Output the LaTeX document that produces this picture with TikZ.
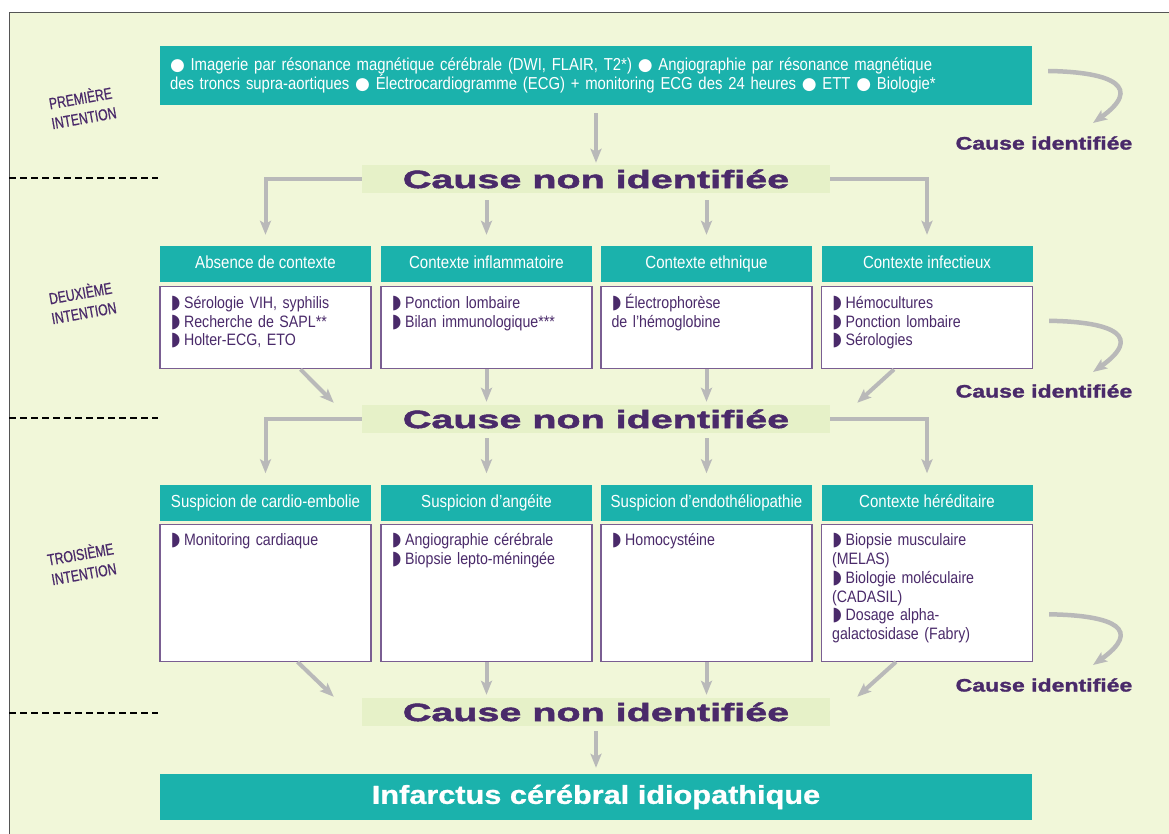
\documentclass[tikz,border=0pt]{standalone}
\usepackage{fontspec}
\setmainfont{Liberation Sans}
\newfontfamily\condfont[FakeStretch=0.86]{Liberation Sans}
\newfontfamily\capsfont[FakeStretch=0.76,FakeBold=0.6]{Liberation Sans}
\newfontfamily\bannerfont[FakeStretch=1.58,FakeBold=2]{Liberation Sans}
\newfontfamily\causefont[FakeStretch=1.28,FakeBold=1.6]{Liberation Sans}
\newfontfamily\finalfont[FakeStretch=1.18,FakeBold=1]{Liberation Sans}
\newfontfamily\symfont{DejaVu Sans}
\usetikzlibrary{arrows.meta,positioning}

\definecolor{tealbar}{HTML}{1BB2AC}
\definecolor{paper}{HTML}{F1F7D9}
\definecolor{bandgreen}{HTML}{E6F1C8}
\definecolor{plum}{HTML}{4A2A6A}
\definecolor{ashgray}{HTML}{B9B9B9}
\definecolor{boxline}{HTML}{7A5E92}
\definecolor{framegray}{HTML}{555555}

\newcommand\itm{\rule{0pt}{14pt}{\symfont\fontsize{19}{19}\selectfont ◗}\hspace{3.5pt}}
\newcommand\dotmark{{\symfont\fontsize{17}{17}\selectfont ●}}

\begin{document}
\begin{tikzpicture}[x=1pt,y=-1pt,
    bar/.style={fill=tealbar, inner sep=0pt},
    band/.style={fill=bandgreen, text=plum, minimum width=468, minimum height=28, inner sep=0pt,
        font=\bannerfont\bfseries\fontsize{25}{25}\selectfont},
    head/.style={bar, text=white, minimum width=211, minimum height=36, text height=12.5pt, text depth=3.5pt,
        font=\condfont\fontsize{17.5}{19}\selectfont},
    panel/.style={draw=boxline, fill=white, line width=1.2pt, minimum width=211, inner sep=0pt},
    items/.style={anchor=north west, text=plum, align=left, inner sep=0pt, text width=195,
        font=\condfont\fontsize{16.5}{18.7}\selectfont},
    level/.style={text=plum, rotate=10, align=center, font=\capsfont\fontsize{16}{20}\selectfont},
    found/.style={text=plum, inner sep=0pt, font=\causefont\bfseries\fontsize{18}{18}\selectfont},
    flow/.style={draw=ashgray, line width=4pt, -{Stealth[length=14pt,width=11pt,inset=3pt]}},
    sepline/.style={draw=black, line width=1.5pt, dash pattern=on 7pt off 4pt}]

    \useasboundingbox (0,0) rectangle (1169,834);
    \clip (0,0) rectangle (1169,834);
    \fill[white] (0,0) rectangle (1169,834);
    \draw[fill=paper, draw=framegray, line width=1pt] (9,13) rectangle (1190,850);

    % levels
    \node[level] (lv1) at (82,107) {PREMIÈRE\\INTENTION};
    \node[level] (lv2) at (82,302) {DEUXIÈME\\INTENTION};
    \node[level] (lv3) at (82,563) {TROISIÈME\\INTENTION};
    \draw[sepline] (9,178) -- (158,178);
    \draw[sepline] (9,418) -- (158,418);
    \draw[sepline] (9,713) -- (158,713);

    % first line exams
    \node[bar, minimum width=872, minimum height=59, text width=852, inner xsep=10pt,
        align=left, text=white, font=\condfont\fontsize{17.3}{18.5}\selectfont] (exam) at (596,75.5)
        {\dotmark{} Imagerie par résonance magnétique cérébrale (DWI, FLAIR, T2*) \dotmark{} Angiographie par résonance magnétique\\
         des troncs supra-aortiques \dotmark{} Électrocardiogramme (ECG) + monitoring ECG des 24 heures \dotmark{} ETT \dotmark{} Biologie*};

    \node[band] (nf1) at (596,179) {Cause non identifiée};
    \node[band] (nf2) at (596,419) {Cause non identifiée};
    \node[band] (nf3) at (596,712) {Cause non identifiée};

    % second line
    \node[head] (h1) at (265.5,264) {Absence de contexte};
    \node[head] (h2) at (486.5,264) {Contexte inflammatoire};
    \node[head] (h3) at (706.5,264) {Contexte ethnique};
    \node[head] (h4) at (927,264) {Contexte infectieux};
    \node[panel, minimum height=82, below=4pt of h1] (p1) {};
    \node[panel, minimum height=82, below=4pt of h2] (p2) {};
    \node[panel, minimum height=82, below=4pt of h3] (p3) {};
    \node[panel, minimum height=82, below=4pt of h4] (p4) {};
    \node[items] (t1) at ([xshift=11pt,yshift=-8pt]p1.north west)
        {\itm Sérologie VIH, syphilis\\ \itm Recherche de SAPL**\\ \itm Holter-ECG, ETO};
    \node[items] (t2) at ([xshift=11pt,yshift=-8pt]p2.north west)
        {\itm Ponction lombaire\\ \itm Bilan immunologique***};
    \node[items] (t3) at ([xshift=11pt,yshift=-8pt]p3.north west)
        {\itm Électrophorèse\\ de l’hémoglobine};
    \node[items] (t4) at ([xshift=11pt,yshift=-8pt]p4.north west)
        {\itm Hémocultures\\ \itm Ponction lombaire\\ \itm Sérologies};

    % third line
    \node[head] (k1) at (265.5,502.5) {Suspicion de cardio-embolie};
    \node[head] (k2) at (486.5,502.5) {Suspicion d’angéite};
    \node[head] (k3) at (706.5,502.5) {Suspicion d’endothéliopathie};
    \node[head] (k4) at (927,502.5) {Contexte héréditaire};
    \node[panel, minimum height=137, below=3pt of k1] (q1) {};
    \node[panel, minimum height=137, below=3pt of k2] (q2) {};
    \node[panel, minimum height=137, below=3pt of k3] (q3) {};
    \node[panel, minimum height=137, below=3pt of k4] (q4) {};
    \node[items] (u1) at ([xshift=11pt,yshift=-8pt]q1.north west)
        {\itm Monitoring cardiaque};
    \node[items] (u2) at ([xshift=11pt,yshift=-8pt]q2.north west)
        {\itm Angiographie cérébrale\\ \itm Biopsie lepto-méningée};
    \node[items] (u3) at ([xshift=11pt,yshift=-8pt]q3.north west)
        {\itm Homocystéine};
    \node[items] (u4) at ([xshift=11pt,yshift=-8pt]q4.north west)
        {\itm Biopsie musculaire\\ (MELAS)\\ \itm Biologie moléculaire\\ (CADASIL)\\
         \itm Dosage alpha-\\ galactosidase (Fabry)};

    \node[bar, minimum width=872, minimum height=46, text=white,
        font=\finalfont\bfseries\fontsize{26}{26}\selectfont] (idio) at (596,797)
        {Infarctus cérébral idiopathique};

    % identified cause
    \node[found] (id1) at (1044,143) {Cause identifiée};
    \node[found] (id2) at (1044,391) {Cause identifiée};
    \node[found] (id3) at (1044,685) {Cause identifiée};

    % arrows
    \draw[flow, shorten <=8pt, shorten >=2pt] (exam.south) -- (nf1.north);
    \draw[flow, shorten >=11pt] (nf1.west) -| (h1.north);
    \draw[flow, shorten >=11pt] (nf1.east) -| (h4.north);
    \draw[flow, shorten <=7pt, shorten >=11pt] (h2.north |- nf1.south) -- (h2.north);
    \draw[flow, shorten <=7pt, shorten >=11pt] (h3.north |- nf1.south) -- (h3.north);

    \draw[flow] ([xshift=35pt]p1.south) -- ([xshift=-28pt,yshift=2pt]nf2.north west);
    \draw[flow, shorten >=3pt] (p2.south) -- (p2.south |- nf2.north);
    \draw[flow, shorten >=3pt] (p3.south) -- (p3.south |- nf2.north);
    \draw[flow] ([xshift=-33pt]p4.south) -- ([xshift=27pt,yshift=2pt]nf2.north east);

    \draw[flow, shorten >=11pt] (nf2.west) -| (k1.north);
    \draw[flow, shorten >=11pt] (nf2.east) -| (k4.north);
    \draw[flow, shorten <=5pt, shorten >=11pt] (k2.north |- nf2.south) -- (k2.north);
    \draw[flow, shorten <=5pt, shorten >=11pt] (k3.north |- nf2.south) -- (k3.north);

    \draw[flow] ([xshift=32pt]q1.south) -- ([xshift=-28pt,yshift=1pt]nf3.north west);
    \draw[flow, shorten >=3pt] (q2.south) -- (q2.south |- nf3.north);
    \draw[flow, shorten >=3pt] (q3.south) -- (q3.south |- nf3.north);
    \draw[flow] ([xshift=-31pt]q4.south) -- ([xshift=27pt,yshift=1pt]nf3.north east);

    \draw[flow, shorten <=5pt, shorten >=6pt] (nf3.south) -- (idio.north);

    \draw[flow, line width=4.5pt] ([xshift=16pt,yshift=4.5pt]exam.east)
        .. controls +(67,1) and +(49,-35) .. ([xshift=49pt,yshift=20pt]id1.center);
    \draw[flow, line width=4.5pt] ([xshift=16pt,yshift=7pt]p4.east)
        .. controls +(67,1) and +(49,-35) .. ([xshift=49pt,yshift=19pt]id2.center);
    \draw[flow, line width=4.5pt] ([xshift=16pt,yshift=-21.5pt]q4.east)
        .. controls +(67,1) and +(49,-35) .. ([xshift=49pt,yshift=20pt]id3.center);
\end{tikzpicture}
\end{document}
